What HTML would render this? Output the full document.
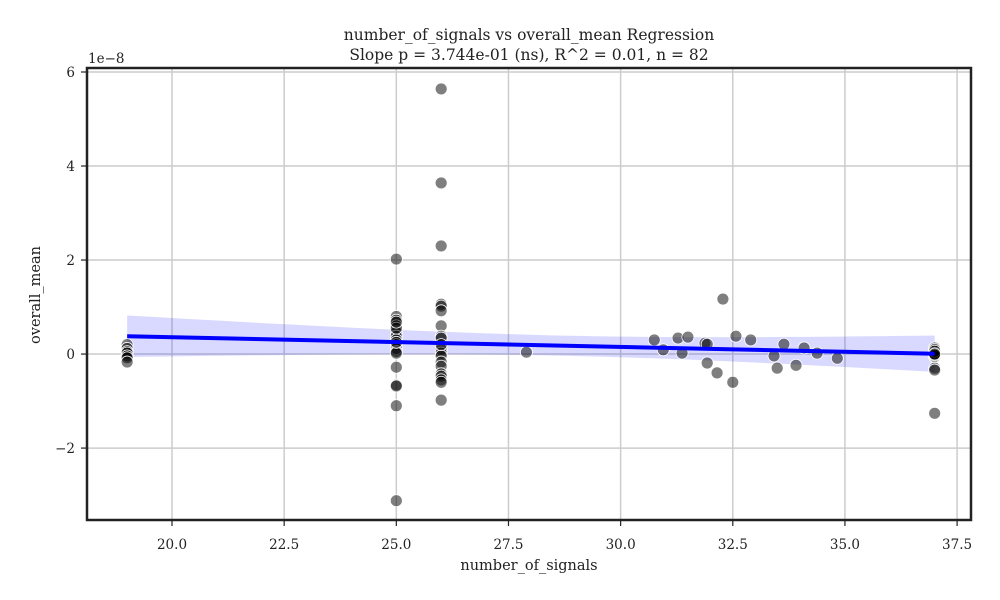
<!DOCTYPE html>
<html><head><meta charset="utf-8"><style>
body{margin:0;background:#fff}
svg{display:block;font-family:"DejaVu Serif","Liberation Serif",serif}
</style></head><body>
<svg id="c" width="1000" height="600"></svg>
<script>
const xVals=[].concat(
 [19,19,19,19,19,19,19],
 Array(19).fill(25),
 Array(20).fill(26),
 [27.9],
 [30.75,30.95,31.28,31.37,31.5,31.88,31.93,31.93,32.15,32.28,32.5,32.57,32.9,33.42,33.49,33.64,33.91,34.09,34.38,34.83],
 Array(15).fill(37)
);
const yVals=[].concat(
 [0.2,0.12,0.05,0.02,-0.04,-0.08,-0.17],
 [2.02,0.8,0.72,0.6,0.47,0.38,0.3,0.2,0.12,0.05,0.02,0.25,0.55,0.68,-0.28,-0.66,-0.68,-1.1,-3.12],
 [5.64,3.64,2.3,1.06,1.02,0.92,0.6,0.38,0.34,0.1,0.02,-0.04,-0.17,-0.26,-0.42,-0.47,-0.55,-0.6,-0.98,0.2],
 [0.04],
 [0.30,0.09,0.34,0.02,0.36,0.23,0.21,-0.19,-0.4,1.17,-0.6,0.38,0.30,-0.04,-0.3,0.21,-0.24,0.13,0.02,-0.09],
 [0.13,0.05,0.0,-0.06,-0.3,-0.34,-1.26,0.08,-0.03,0.1,0.02,-0.05,0.06,-0.02,0.0]
);
const xTicks=[20,22.5,25,27.5,30,32.5,35,37.5];
const yTicks=[-2,0,2,4,6];
const L=87,R=971,T=68,B=520, xmin=18.105,xmax=37.81,ymin=-3.53,ymax=6.085;
const sx=v=>L+(v-xmin)/(xmax-xmin)*(R-L);
const sy=v=>B-(v-ymin)/(ymax-ymin)*(B-T);
const svg=document.getElementById('c');
const NS='http://www.w3.org/2000/svg';
function mk(t,a,p){const e=document.createElementNS(NS,t);for(const k in a)e.setAttribute(k,a[k]);(p||svg).appendChild(e);return e;}
xTicks.forEach(t=>{
 const g=mk('line',{x1:sx(t),x2:sx(t),y1:T,y2:B,stroke:'#cccccc','stroke-width':1.5});
 
 
 mk('line',{x1:sx(t),x2:sx(t),y1:B,y2:B+6,stroke:'#222','stroke-width':1.2});
 const tx=mk('text',{x:sx(t),y:B+29,'text-anchor':'middle','font-size':13.5,fill:'#222'});
 tx.textContent=t.toFixed(1);
 
 
});
yTicks.forEach(t=>{
 const g=mk('line',{x1:L,x2:R,y1:sy(t),y2:sy(t),stroke:'#cccccc','stroke-width':1.5});
 
 
 mk('line',{x1:L-6,x2:L,y1:sy(t),y2:sy(t),stroke:'#222','stroke-width':1.2});
 const tx=mk('text',{x:L-12,y:sy(t)+5,'text-anchor':'end','font-size':13.5,fill:'#222'});
 tx.textContent=(t<0?'\u2212':'')+Math.abs(t);
 
 
});
const n=xVals.length, mx=xVals.reduce((a,b)=>a+b)/n, my=yVals.reduce((a,b)=>a+b)/n;
let sxx=0,sxy=0;for(let i=0;i<n;i++){sxx+=(xVals[i]-mx)**2;sxy+=(xVals[i]-mx)*(yVals[i]-my);}
const b1=sxy/sxx,b0=my-b1*mx;
let sse=0;for(let i=0;i<n;i++)sse+=(yVals[i]-b0-b1*xVals[i])**2;
const s=Math.sqrt(sse/(n-2)), tc=1.99;
const x0=Math.min(...xVals),x1=Math.max(...xVals);
let up=[],lo=[];
for(let k=0;k<=50;k++){const x=x0+(x1-x0)*k/50,yh=b0+b1*x,se=s*Math.sqrt(1/n+(x-mx)**2/sxx);
 up.push(sx(x)+','+sy(yh+tc*se));lo.unshift(sx(x)+','+sy(yh-tc*se));}
const band=mk('polygon',{points:up.concat(lo).join(' '),fill:'rgba(0,0,255,0.15)'});


for(let i=0;i<n;i++){
 const c=mk('circle',{cx:sx(xVals[i]),cy:sy(yVals[i]),r:6,fill:'rgba(0,0,0,0.5)',stroke:'#fff','stroke-width':0.8});
 
 
}
const rl=mk('line',{x1:sx(x0),x2:sx(x1),y1:sy(b0+b1*x0),y2:sy(b0+b1*x1),stroke:'#0000ff','stroke-width':4});


const fr=mk('rect',{x:L,y:T,width:R-L,height:B-T,fill:'none',stroke:'#222','stroke-width':2.5});


function txt(x,y,s,a,name,extra){const e=mk('text',Object.assign({x:x,y:y,'font-size':15.5,fill:'#222','text-anchor':a},extra||{}));e.textContent=s;
 
 return e;}
txt(529,40,'number_of_signals vs overall_mean Regression','middle','chart-title');
txt(529,60,'Slope p = 3.744e-01 (ns), R^2 = 0.01, n = 82','middle','chart-subtitle');
txt(529,570,'number_of_signals','middle','x-axis-title',{'font-size':14.5});
txt(40,295,'overall_mean','middle','y-axis-title',{'font-size':14.5,transform:'rotate(-90 40 295)'});
txt(88,63,'1e\u22128','start','y-offset-label',{'font-size':13.5});
</script>
</body></html>
